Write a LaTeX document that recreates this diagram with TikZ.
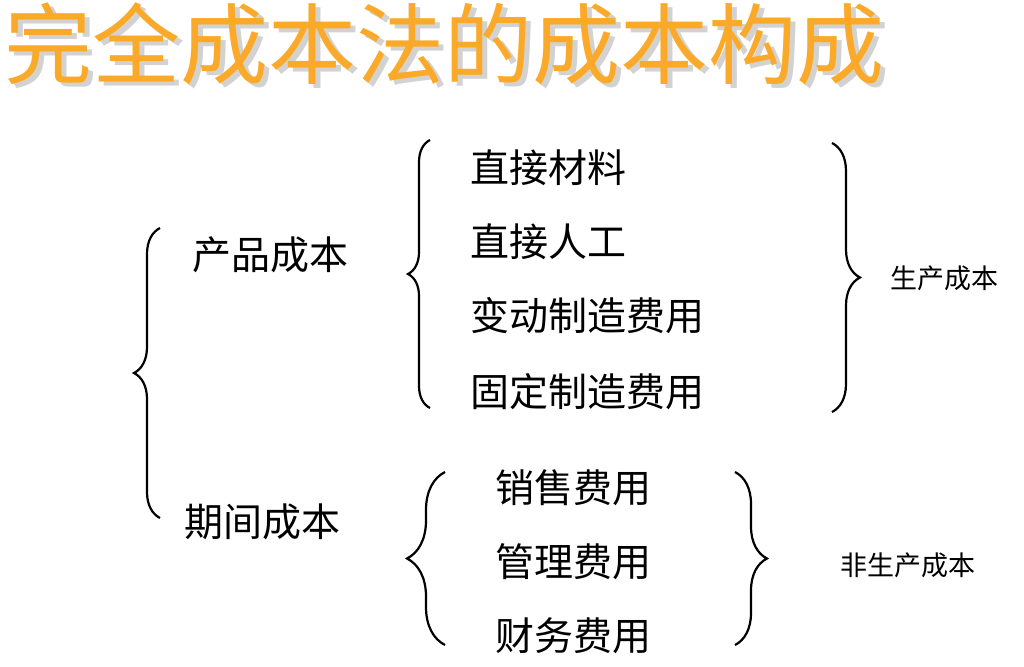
\documentclass[tikz,border=0pt]{standalone}
\usepackage{fontspec}
\newfontfamily\cjk{Noto Sans CJK SC}
\usetikzlibrary{decorations.pathreplacing}
\definecolor{titleor}{RGB}{250,170,40}
\tikzset{
  item/.style={font=\cjk\fontsize{39}{42}\selectfont, anchor=west, inner sep=0pt},
  side/.style={font=\cjk\fontsize{27}{30}\selectfont, anchor=west, inner sep=0pt},
  br/.style={line width=2.2pt, decorate, decoration={brace, amplitude=#1}},
}
\begin{document}
\begin{tikzpicture}[x=1pt,y=-1pt]
\useasboundingbox (0,0) rectangle (1024,666);
\node[font=\cjk\fontsize{88}{90}\selectfont, text=gray!35, anchor=west, inner sep=0pt] at (9,48) {完全成本法的成本构成};
\node[font=\cjk\fontsize{88}{90}\selectfont, text=titleor, anchor=west, inner sep=0pt] (title) at (4,44) {完全成本法的成本构成};
\node[item] (pc) at (192,255) {产品成本};
\node[item] (qc) at (184,522) {期间成本};
\node[item] (a1) at (470,168) {直接材料};
\node[item] (a2) at (470,242) {直接人工};
\node[item] (a3) at (470,316) {变动制造费用};
\node[item] (a4) at (470,392) {固定制造费用};
\node[item] (b1) at (495,488) {销售费用};
\node[item] (b2) at (495,562) {管理费用};
\node[item] (b3) at (495,636) {财务费用};
\node[side] (s1) at (890,278) {生产成本};
\node[side] (s2) at (840,565) {非生产成本};
\draw[br=26pt] (160,518) -- (160,228);
\draw[br=22pt] (430,408) -- (430,140);
\draw[br=28pt] (832,143) -- (832,412);
\draw[br=38pt] (445,645) -- (445,472);
\draw[br=32pt] (735,472) -- (735,645);
\end{tikzpicture}
\end{document}
